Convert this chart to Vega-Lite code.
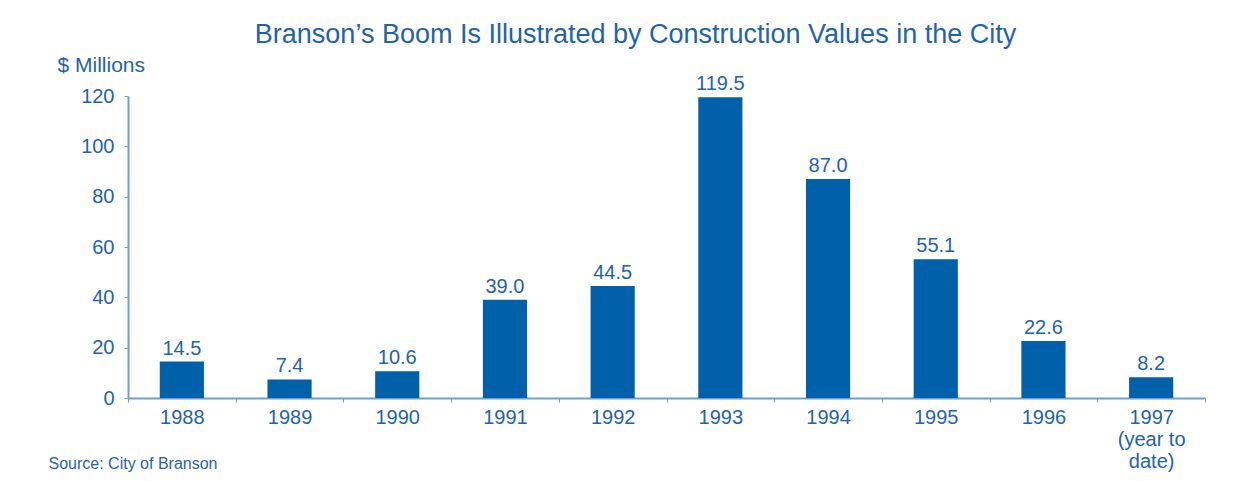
{
  "$schema": "https://vega.github.io/schema/vega-lite/v6.json",
  "width": 1077,
  "height": 302,
  "autosize": "none",
  "padding": {"left": 128, "top": 96, "right": 45, "bottom": 83},
  "background": "white",
  "config": {
    "view": {"stroke": null},
    "font": "Liberation Sans",
    "text": {"font": "Liberation Sans"}
  },
  "title": {
    "text": "Branson’s Boom Is Illustrated by Construction Values in the City",
    "anchor": "middle",
    "frame": "group",
    "dx": -31,
    "offset": 5,
    "fontSize": 27,
    "fontWeight": "normal",
    "color": "#1f63ad",
    "font": "Liberation Sans"
  },
  "data": {
    "values": [
      {"year": "1988", "value": 14.5},
      {"year": "1989", "value": 7.4},
      {"year": "1990", "value": 10.6},
      {"year": "1991", "value": 39.0},
      {"year": "1992", "value": 44.5},
      {"year": "1993", "value": 119.5},
      {"year": "1994", "value": 87.0},
      {"year": "1995", "value": 55.1},
      {"year": "1996", "value": 22.6},
      {"year": "1997", "value": 8.2}
    ]
  },
  "encoding": {
    "x": {
      "field": "year",
      "type": "nominal",
      "sort": null,
      "scale": {"paddingInner": 0, "paddingOuter": 0},
      "axis": {
        "title": "Source:  City of Branson",
        "titleX": -80,
        "titleY": 65,
        "titleAlign": "left",
        "titleBaseline": "middle",
        "titleFontSize": 16,
        "titleFontWeight": "normal",
        "titleColor": "#1f63ad",
        "titleFont": "Liberation Sans",
        "labelAngle": 0,
        "labelFontSize": 20,
        "labelColor": "#1f63ad",
        "labelFont": "Liberation Sans",
        "labelPadding": 5,
        "labelLineHeight": 22,
        "labelExpr": "datum.value == '1997' ? ['1997', '(year to', 'date)'] : datum.value",
        "tickBand": "extent",
        "tickSize": 4,
        "tickColor": "#6d9fd3",
        "domainColor": "#6d9fd3",
        "domainWidth": 2
      }
    }
  },
  "layer": [
    {
      "mark": {"type": "bar", "width": {"band": 0.41}, "color": "#0060a9"},
      "encoding": {
        "y": {
          "field": "value",
          "type": "quantitative",
          "scale": {"domain": [0, 120], "nice": false},
          "axis": {
            "title": "$ Millions",
            "titleAngle": 0,
            "titleX": -71,
            "titleY": -31,
            "titleAlign": "left",
            "titleBaseline": "middle",
            "titleFontSize": 21,
            "titleFontWeight": "normal",
            "titleColor": "#1f63ad",
            "titleFont": "Liberation Sans",
            "values": [0, 20, 40, 60, 80, 100, 120],
            "grid": false,
            "labelFontSize": 20,
            "labelColor": "#1f63ad",
            "labelFont": "Liberation Sans",
            "labelPadding": 10,
            "tickSize": 4,
            "tickColor": "#6d9fd3",
            "domainColor": "#6d9fd3",
            "domainWidth": 2
          }
        }
      }
    },
    {
      "mark": {"type": "text", "baseline": "bottom", "dy": -3, "fontSize": 20, "color": "#1f63ad", "font": "Liberation Sans"},
      "encoding": {
        "y": {"field": "value", "type": "quantitative"},
        "text": {"field": "value", "type": "quantitative", "format": ".1f"}
      }
    }
  ]
}
